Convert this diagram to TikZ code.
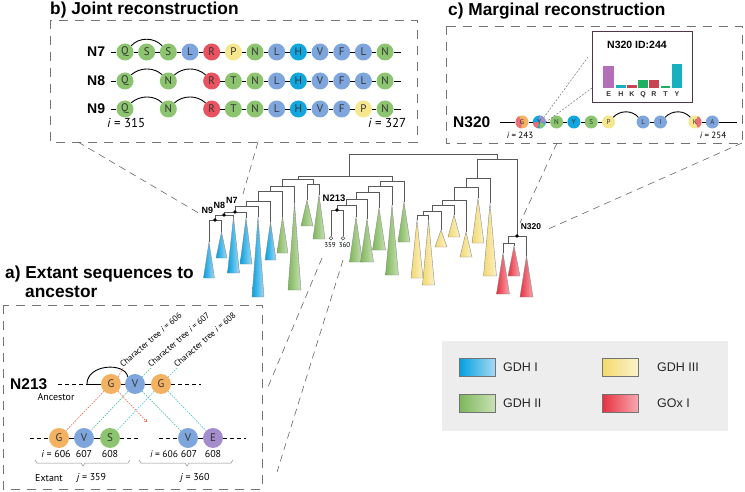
\documentclass[tikz,border=0pt]{standalone}
\usepackage{fontspec}
\setmainfont{Liberation Sans}
\newfontfamily\myr{PT Sans}
\usetikzlibrary{arrows.meta}
\definecolor{cg}{HTML}{8CC46F}
\definecolor{cb}{HTML}{7EA6DC}
\definecolor{cc}{HTML}{12A6DE}
\definecolor{cr}{HTML}{E9525F}
\definecolor{cy}{HTML}{F6E78F}
\definecolor{co}{HTML}{F3B262}
\definecolor{cp}{HTML}{A48DCC}
\definecolor{blL}{HTML}{00A0E2}
\definecolor{blR}{HTML}{A6D9F3}
\definecolor{grL}{HTML}{7DB65A}
\definecolor{grR}{HTML}{C9E1B5}
\definecolor{yeL}{HTML}{F3D96E}
\definecolor{yeR}{HTML}{FBF2CB}
\definecolor{reL}{HTML}{E6303F}
\definecolor{reR}{HTML}{F7A8B0}
\definecolor{dotred}{HTML}{EA6446}
\definecolor{dotgrn}{HTML}{3DB58A}
\definecolor{dotcya}{HTML}{45C3D8}
\definecolor{barE}{HTML}{B46FB8}
\definecolor{barH}{HTML}{18AFC0}
\definecolor{barK}{HTML}{C94452}
\definecolor{barQ}{HTML}{1DB060}
\definecolor{insetc}{HTML}{4E3646}
\newcommand\cladetri[6]{\shadedraw[left color=#5,right color=#6,draw=black!45,line width=0.4pt] ({#1-#4},#3) -- (#1,#2) -- ({#1+#4},#3) -- cycle;}
\begin{document}
\begin{tikzpicture}[x=1pt,y=-1pt,
  resb/.style={circle,inner sep=0pt,minimum size=17pt,text=black!80,font=\myr\fontsize{11}{11}\selectfont},
  resc/.style={circle,inner sep=0pt,minimum size=13pt,text=black!80,font=\myr\fontsize{7}{7}\selectfont},
  resa/.style={circle,inner sep=0pt,minimum size=20pt,text=black!80,font=\myr\fontsize{11}{11}\selectfont},
  bond/.style={draw=black,line width=0.9pt},
  panelbox/.style={draw=black!55,dash pattern=on 9pt off 7pt,line width=0.8pt},
  link/.style={draw=black!60,dash pattern=on 7pt off 5pt,line width=0.6pt},
  tree/.style={draw=black!65,line width=0.9pt},
  dashrow/.style={draw=black,dash pattern=on 4pt off 3pt,line width=0.6pt},
  dotr/.style={draw=dotred,dash pattern=on 1.5pt off 1.2pt,line width=0.6pt},
  dotg/.style={draw=dotgrn,dash pattern=on 1.5pt off 1.2pt,line width=0.6pt},
  dotc/.style={draw=dotcya,dash pattern=on 1.5pt off 1.2pt,line width=0.6pt},
  ttl/.style={font=\fontsize{17.3}{20}\selectfont\bfseries,anchor=base west,inner sep=0pt},
  rowlab/.style={font=\fontsize{14}{14}\selectfont\bfseries,anchor=base west,inner sep=0pt},
  tlab/.style={font=\fontsize{9}{9}\selectfont\bfseries,inner sep=0pt},
  small/.style={font=\myr\fontsize{10}{10}\selectfont,inner sep=0pt},
  legtxt/.style={font=\fontsize{12.5}{12.5}\selectfont,anchor=west,inner sep=0pt,text=black!85},
  swatch/.style={draw=black!55,line width=0.6pt}
]
\useasboundingbox (0,0) rectangle (745,492);

% ================= panel b =================
\node[ttl] (tb) at (50,14.5) {b) Joint reconstruction};
\draw[panelbox] (50,20) rectangle (417,142);
\node[rowlab] (l7) at (87,57) {N7};
\node[rowlab] (l8) at (87,86) {N8};
\node[rowlab] (l9) at (87,114) {N9};
% N7
\foreach \l/\c [count=\k from 0] in {Q/cg,S/cg,S/cg,L/cb,R/cr,P/cy,N/cg,L/cb,H/cc,V/cb,F/cb,L/cb,N/cg}
  \node[resb,fill=\c] (s7-\k) at ({125+21.67*\k},52) {\l};
\foreach \k in {0,...,11}{\pgfmathtruncatemacro\j{\k+1}\draw[bond] (s7-\k) -- (s7-\j);}
\coordinate (s7a) at (111,52); \coordinate (s7b) at (401,52);
\draw[bond] (s7a) -- (s7-0); \draw[bond] (s7-12) -- (s7b);
\draw[bond] (s7-0.north east) .. controls (139,37) and (154,37) .. (s7-2.north west);
% N8
\foreach \p/\l/\c in {0/Q/cg,2/N/cg,4/R/cr,5/T/cg,6/N/cg,7/L/cb,8/H/cc,9/V/cb,10/F/cb,11/L/cb,12/N/cg}
  \node[resb,fill=\c] (s8-\p) at ({125+21.67*\p},81) {\l};
\foreach \k in {4,...,11}{\pgfmathtruncatemacro\j{\k+1}\draw[bond] (s8-\k) -- (s8-\j);}
\coordinate (s8a) at (111,81); \coordinate (s8b) at (401,81);
\draw[bond] (s8a) -- (s8-0); \draw[bond] (s8-12) -- (s8b);
\draw[bond] (s8-0.north east) .. controls (140,67) and (154,67) .. (s8-2.north west);
\draw[bond] (s8-2.north east) .. controls (183,67) and (197,67) .. (s8-4.north west);
% N9
\foreach \p/\l/\c in {0/Q/cg,2/N/cg,4/R/cr,5/T/cg,6/N/cg,7/L/cb,8/H/cc,9/V/cb,10/F/cb,11/P/cy,12/N/cg}
  \node[resb,fill=\c] (s9-\p) at ({125+21.67*\p},109) {\l};
\foreach \k in {4,...,11}{\pgfmathtruncatemacro\j{\k+1}\draw[bond] (s9-\k) -- (s9-\j);}
\coordinate (s9a) at (111,109); \coordinate (s9b) at (401,109);
\draw[bond] (s9a) -- (s9-0); \draw[bond] (s9-12) -- (s9b);
\draw[bond] (s9-0.north east) .. controls (140,95) and (154,95) .. (s9-2.north west);
\draw[bond] (s9-2.north east) .. controls (183,95) and (197,95) .. (s9-4.north west);
\node[font=\myr\fontsize{13}{13}\selectfont,anchor=base west,inner sep=0pt] (i315) at (107,128) {\itshape i\upshape{} = 315};
\node[font=\myr\fontsize{13}{13}\selectfont,anchor=base west,inner sep=0pt] (i327) at (368,128) {\itshape i\upshape{} = 327};

% ================= panel c =================
\node[ttl] (tc) at (448,15.5) {c) Marginal reconstruction};
\draw[panelbox] (446,26) rectangle (742,143);
\draw[draw=insetc,line width=1pt,fill=white] (592,32) rectangle (692,103);
\node[font=\fontsize{10.5}{10.5}\selectfont\bfseries,inner sep=0pt] (ins) at (637,45) {N320 ID:244};
\fill[barE] (603.3,66) rectangle (614,88);
\fill[barH] (616,85) rectangle (626,88);
\fill[barK] (627,85.5) rectangle (636.7,88);
\fill[barQ] (638,80) rectangle (648,88);
\fill[barK] (649,80) rectangle (658.7,88);
\fill[barQ] (661,86.5) rectangle (670,88);
\fill[barH] (672,64) rectangle (681.7,88);
\foreach \x/\l in {608.7/E,621/H,632/K,643/Q,654/R,665.5/T,677/Y}
  \node[font=\fontsize{7}{7}\selectfont\bfseries,inner sep=0pt,text=black!80] (bl\l) at (\x,94.5) {\l};
\node[font=\fontsize{15.5}{15.5}\selectfont\bfseries,anchor=base west,inner sep=0pt] (l320) at (453,127.5) {N320};
% multi-coloured residues
\begin{scope}
\clip (522,122) circle[radius=6.5];
\fill[co] (514,114) rectangle (530,130);
\fill[cr!85] (522,122) -- (517,113) -- (514,113) -- (514,131) -- (521,131) -- cycle;
\end{scope}
\begin{scope}
\clip (539.3,122) circle[radius=6.5];
\fill[cc] (531,114) rectangle (548,130);
\fill[cp] (539.3,122) -- (539.3,114) -- (548,114) -- (548,123) -- cycle;
\fill[cr!85] (539.3,122) -- (531,123) -- (531,130) -- (537,130) -- cycle;
\fill[cg] (539.3,122) -- (540,130) -- (548,130) -- (548,125) -- cycle;
\end{scope}
\begin{scope}
\clip (695,122) circle[radius=6.5];
\fill[cy] (688,114) rectangle (702,130);
\fill[cr!85] (695,122) -- (699,114) -- (702,114) -- (702,130) -- (699,130) -- cycle;
\end{scope}
\node[resc] (c0) at (522,122) {G};
\node[resc] (c1) at (539.3,122) {Y};
\node[resc] (c10) at (695,122) {K};
\foreach \p/\l/\c in {2/N/cg,3/Y/cc,4/S/cg,5/P/cy,7/L/cb,8/I/cb,11/A/cb}
  \node[resc,fill=\c] (c\p) at ({522+17.3*\p},122) {\l};
\foreach \a/\b in {0/1,1/2,2/3,3/4,4/5,7/8,10/11} \draw[bond] (c\a) -- (c\b);
\coordinate (ca) at (500,122); \coordinate (cz) at (737,122);
\draw[bond] (ca) -- (c0); \draw[bond] (c11) -- (cz);
\draw[bond] (c5.north east) .. controls (620,110) and (632,110) .. (c7.north west);
\draw[bond] (c8.north east) .. controls (672,110) and (684,110) .. (c10.north west);
\coordinate (insA) at (588,57); \coordinate (insB) at (592,88);
\draw[draw=black!55,dash pattern=on 2pt off 1.5pt,line width=0.5pt] (insA) -- (c1.north east);
\draw[draw=black!55,dash pattern=on 2pt off 1.5pt,line width=0.5pt] (insB) -- (c1.east);
\node[font=\myr\fontsize{9}{9}\selectfont,inner sep=0pt] (i243) at (520,135) {\itshape i\upshape{} = 243};
\node[font=\myr\fontsize{9}{9}\selectfont,inner sep=0pt] (i254) at (713,135) {\itshape i\upshape{} = 254};

% ================= tree =================
% clades
\cladetri{209}{242}{278}{5.5}{blL}{blR}
\cladetri{221.5}{232}{258}{5.5}{blL}{blR}
\cladetri{233.5}{217}{273}{6}{blL}{blR}
\cladetri{246}{218}{264}{6}{blL}{blR}
\cladetri{258}{217}{297}{6}{blL}{blR}
\cladetri{270.5}{222}{260}{5.5}{blL}{blR}
\cladetri{282.5}{217}{253}{5.5}{grL}{grR}
\cladetri{294.5}{203}{290}{6.5}{grL}{grR}
\cladetri{307}{200}{226}{6}{grL}{grR}
\cladetri{319}{195}{239}{6}{grL}{grR}
\cladetri{356}{217}{262}{6.5}{grL}{grR}
\cladetri{367}{219}{262}{6.5}{grL}{grR}
\cladetri{379}{208}{250}{6.5}{grL}{grR}
\cladetri{392}{205}{275}{6.5}{grL}{grR}
\cladetri{404}{202}{242}{6}{grL}{grR}
\cladetri{417}{220}{278}{6}{yeL}{yeR}
\cladetri{428.5}{220}{285}{6}{yeL}{yeR}
\cladetri{441}{230}{247}{6}{yeL}{yeR}
\cladetri{454}{215}{237}{6}{yeL}{yeR}
\cladetri{466}{232}{257}{6}{yeL}{yeR}
\cladetri{478}{198}{243}{6}{yeL}{yeR}
\cladetri{490}{203}{276}{6.5}{yeL}{yeR}
\cladetri{503}{253}{294}{6.5}{reL}{reR}
\cladetri{514}{246}{276}{6}{reL}{reR}
\cladetri{526.5}{256}{297}{6.5}{reL}{reR}
% branches, left ladder
\draw[tree] (209,242) -- (209,220) -- (221.5,220) -- (221.5,232);
\draw[tree] (215,220) -- (215,215) -- (233.5,215) -- (233.5,217);
\draw[tree] (224,215) -- (224,212) -- (246,212) -- (246,218);
\draw[tree] (235,212) -- (235,206) -- (258,206) -- (258,217);
\draw[tree] (246.5,206) -- (246.5,201) -- (270.5,201) -- (270.5,222);
\draw[tree] (258.5,201) -- (258.5,191) -- (282.5,191) -- (282.5,217);
\draw[tree] (270.5,191) -- (270.5,186) -- (294.5,186) -- (294.5,203);
\draw[tree] (307,200) -- (307,184) -- (319,184) -- (319,195);
\draw[tree] (282.5,186) -- (282.5,179) -- (313,179) -- (313,184);
\draw[tree] (298,179) -- (298,176) -- (392,176) -- (392,181);
% green ladder with N213
\draw[tree] (331,236.5) -- (331,210) -- (343,210) -- (343,236.5);
\draw[tree] (337,210) -- (337,205) -- (356,205) -- (356,217);
\draw[tree] (346.5,205) -- (346.5,199) -- (367,199) -- (367,219);
\draw[tree] (356.75,199) -- (356.75,192) -- (379,192) -- (379,208);
\draw[tree] (368,192) -- (368,186) -- (392,186) -- (392,205);
\draw[tree] (380,186) -- (380,181) -- (404,181) -- (404,202);
% root
\draw[tree] (349,176) -- (349,154) -- (497,154) -- (497,159);
\draw[tree] (477,178) -- (477,159) -- (517,159) -- (517,236);
% red clade N320
\draw[tree] (508,243) -- (508,236) -- (526.5,236) -- (526.5,256);
\draw[tree] (503,253) -- (503,243) -- (514,243) -- (514,246);
% yellow ladder
\draw[tree] (466,187) -- (466,178) -- (490,178) -- (490,203);
\draw[tree] (454,200) -- (454,187) -- (478,187) -- (478,198);
\draw[tree] (442,205) -- (442,200) -- (466,200) -- (466,232);
\draw[tree] (432,211) -- (432,205) -- (454,205) -- (454,215);
\draw[tree] (423,215) -- (423,211) -- (441,211) -- (441,230);
\draw[tree] (417,220) -- (417,215) -- (428.5,215) -- (428.5,220);
% node dots
\foreach \x/\y in {215/220,224/215,235/212,337/210,517/236}
  \fill[black] (\x,\y) circle[radius=1.8];
\draw[black!70,fill=white,line width=0.5pt] (331,238.3) circle[radius=1.7];
\draw[black!70,fill=white,line width=0.5pt] (343,238.3) circle[radius=1.7];
\node[tlab] (tn9) at (207.5,210) {N9};
\node[tlab] (tn8) at (219.5,205.5) {N8};
\node[tlab] (tn7) at (232,200.5) {N7};
\node[tlab,font=\fontsize{9.5}{9.5}\selectfont\bfseries] (tn213) at (334,198) {N213};
\node[tlab,font=\fontsize{8.5}{8.5}\selectfont\bfseries] (tn320) at (531,227) {N320};
\node[font=\myr\fontsize{7}{7}\selectfont,inner sep=0pt] (t359) at (330,245.5) {359};
\node[font=\myr\fontsize{7}{7}\selectfont,inner sep=0pt] (t360) at (344.5,245.5) {360};

% links between tree and panels
\coordinate (bL) at (78,142); \coordinate (bLe) at (202,215);
\coordinate (bR) at (258,142); \coordinate (bRe) at (243,194);
\draw[link] (bL) -- (bLe);
\draw[link] (bR) -- (bRe);
\coordinate (cL) at (557,143); \coordinate (cLe) at (520,223);
\coordinate (cR) at (742,143); \coordinate (cRe) at (546,230);
\draw[link] (cL) -- (cLe);
\draw[link] (cR) -- (cRe);
\coordinate (aT1) at (322,258); \coordinate (aE1) at (268,387);
\coordinate (aT2) at (343,260); \coordinate (aE2) at (277,472);
\draw[link] (aT1) -- (aE1);
\draw[link] (aT2) -- (aE2);

% ================= panel a =================
\node[ttl] (ta1) at (5,278) {a) Extant sequences to};
\node[ttl] (ta2) at (25,298) {ancestor};
\draw[panelbox] (3,305) rectangle (262,489);
\node[font=\fontsize{15.5}{15.5}\selectfont\bfseries,anchor=base west,inner sep=0pt] (l213) at (10,389.5) {N213};
\node[small] (anc) at (56,397) {Ancestor};
% ancestor row
\node[resa,fill=co] (ag1) at (111,384) {G};
\node[resa,fill=cb] (av) at (135,384) {V};
\node[resa,fill=co] (ag2) at (161,384) {G};
\coordinate (aL) at (58,384); \coordinate (aA) at (87,384); \coordinate (aR) at (201,384);
\draw[dashrow] (aL) -- (aA);
\draw[bond] (aA) -- (ag1);
\draw[bond] (ag1) -- (av); \draw[bond] (av) -- (ag2);
\draw[dashrow] (ag2) -- (aR);
\draw[bond] (aA) .. controls (87,364) and (125,362) .. (av.north west);
% extant rows
\node[resa,fill=co] (eg) at (59,438) {G};
\node[resa,fill=cb] (ev1) at (84,438) {V};
\node[resa,fill=cg] (es) at (110,438) {S};
\node[resa,fill=cb] (ev2) at (188,438) {V};
\node[resa,fill=cp] (ee) at (213,438) {E};
\draw[bond] (eg) -- (ev1); \draw[bond] (ev1) -- (es); \draw[bond] (ev2) -- (ee);
\coordinate (e1a) at (30,438); \coordinate (e1b) at (141,438);
\coordinate (e2a) at (159,438); \coordinate (e2b) at (246,438);
\draw[dashrow] (e1a) -- (eg); \draw[dashrow] (es) -- (e1b);
\draw[dashrow] (e2a) -- (ev2); \draw[dashrow] (ee) -- (e2b);
% character lines
\coordinate (redend) at (147,422);
\draw[dotr] (ag1) -- (eg);
\draw[dotr,-{Straight Barb[length=2pt,width=3pt]}] (ag1) -- (redend);
\draw[dotg] (av) -- (ev1);
\draw[dotg] (av) -- (ev2);
\draw[dotc] (ag2) -- (es);
\draw[dotc] (ag2) -- (ee);
\coordinate (ct1) at (123,368); \coordinate (ct2) at (151,368); \coordinate (ct3) at (177,368);
\draw[dotr] (ag1.north east) -- (ct1);
\draw[dotg] (av.north east) -- (ct2);
\draw[dotc] (ag2.north east) -- (ct3);
\node[font=\myr\fontsize{8.5}{8.5}\selectfont,rotate=41,anchor=base west,inner sep=0pt] (ctt1) at (ct1) {Character tree \itshape i\upshape{} = 606};
\node[font=\myr\fontsize{8.5}{8.5}\selectfont,rotate=41,anchor=base west,inner sep=0pt] (ctt2) at (ct2) {Character tree \itshape i\upshape{} = 607};
\node[font=\myr\fontsize{8.5}{8.5}\selectfont,rotate=41,anchor=base west,inner sep=0pt] (ctt3) at (ct3) {Character tree \itshape i\upshape{} = 608};
% labels
\node[small] (x606a) at (56,454) {\itshape i\upshape{} = 606};
\node[small] (x607a) at (84,454) {607};
\node[small] (x608a) at (110,454) {608};
\node[small,font=\myr\fontsize{9.5}{9.5}\selectfont] (x606b) at (164,454) {\itshape i\upshape{} = 606};
\node[small] (x607b) at (189,454) {607};
\node[small] (x608b) at (213,454) {608};
\draw[black!45,line width=0.5pt] (35,460) -- (37,463) -- (81,463) -- (83,466) -- (85,463) -- (128,463) -- (130,460);
\draw[black!45,line width=0.5pt] (139,460) -- (141,463) -- (185,463) -- (187,466) -- (189,463) -- (231,463) -- (233,460);
\node[small] (ext) at (49,478) {Extant};
\node[small] (j359) at (91.5,478) {\itshape j\upshape{} = 359};
\node[small] (j360) at (195,478) {\itshape j\upshape{} = 360};

% ================= legend =================
\fill[black!7] (442,341) rectangle (728,431);
\shadedraw[swatch,left color=blL,right color=blR] (459,358) rectangle (495,376);
\shadedraw[swatch,left color=grL,right color=grR] (459,394) rectangle (495,412);
\shadedraw[swatch,left color=yeL,right color=yeR] (602,358) rectangle (638,376);
\shadedraw[swatch,left color=reL,right color=reR] (602,394) rectangle (638,412);
\node[legtxt] (g1) at (503,367) {GDH I};
\node[legtxt] (g2) at (503,403) {GDH II};
\node[legtxt] (g3) at (657,367) {GDH III};
\node[legtxt] (g4) at (657,403) {GOx I};
\end{tikzpicture}
\end{document}
